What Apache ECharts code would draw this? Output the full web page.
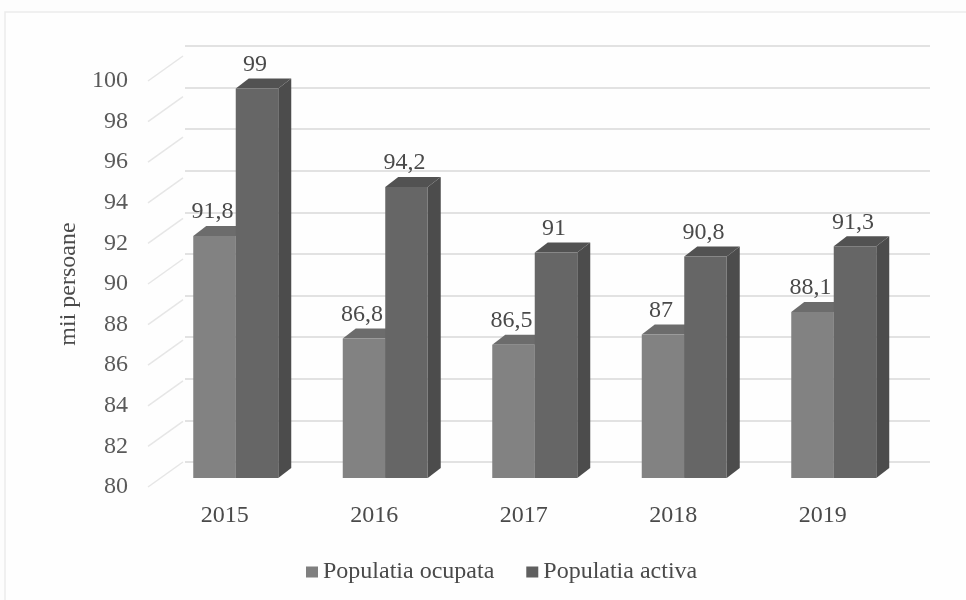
<!DOCTYPE html>
<html><head><meta charset="utf-8">
<style>html,body{margin:0;padding:0;background:#fdfdfd}#c{width:966px;height:600px}</style>
<script src="https://cdn.jsdelivr.net/npm/echarts@6/dist/echarts.min.js"></script>
</head><body><div id="c"></div>
<script>
const years = ['2015','2016','2017','2018','2019'];
const ocupata = [91.8,86.8,86.5,87,88.1];
const activa = [99,94.2,91,90.8,91.3];
const ticks = [80,82,84,86,88,90,92,94,96,98,100];
const seriesNames = ['Populatia ocupata','Populatia activa'];
const yAxisName = 'mii persoane';
const FONT = '"Liberation Serif","Times New Roman",serif';
const TXT = '#4a4a4a';
const DEPTH = [13,-10];
const BAR_RATIO = 42.5/149.5;

function barItem(side, front, top, right){
  return function(params, api){
    const i = api.value(0), v = api.value(1);
    const p = api.coord([i, v]), b = api.coord([i, 80]);
    const w = api.size([1,0])[0]*BAR_RATIO;
    const x0 = side===0 ? p[0]-w : p[0], x1 = x0+w;
    const dx = DEPTH[0], dy = DEPTH[1];
    const children = [
      {type:'polygon',shape:{points:[[x1,p[1]],[x1+dx,p[1]+dy],[x1+dx,b[1]+dy],[x1,b[1]]]},style:{fill:right}},
      {type:'polygon',shape:{points:[[x0,p[1]],[x0+dx,p[1]+dy],[x1+dx,p[1]+dy],[x1,p[1]]]},style:{fill:top}},
      {type:'rect',shape:{x:x0,y:p[1],width:w,height:b[1]-p[1]},style:{fill:front}},
      {type:'text',z2:50,style:{x:(x0+x1)/2-2,y:p[1]+dy-2,text:String(v).replace('.',','),
        font:'24px '+FONT,fill:TXT,textAlign:'center',textVerticalAlign:'bottom'}}
    ];
    return {type:'group',children};
  };
}
const chart = echarts.init(document.getElementById('c'),null,{renderer:'canvas'});
chart.setOption({
  backgroundColor:'#fdfdfd',
  animation:false,
  graphic:[{type:'rect',z:-10,shape:{x:5,y:12,width:970,height:600},style:{fill:'#fefefe',stroke:'#ebebeb',lineWidth:1.5}}],
  legend:{left:301,top:555,itemWidth:12,itemHeight:11,itemGap:32,icon:'rect',
    data:seriesNames,textStyle:{fontFamily:FONT,fontSize:24,color:TXT}},
  grid:[
    {left:150,right:68.5,top:81,bottom:113},
    {left:185,right:36,top:46,bottom:138},
    {left:161,right:57.5,top:68,bottom:122}
  ],
  xAxis:[
    {gridIndex:0,type:'category',data:years,axisLine:{show:false},axisTick:{show:false},
      axisLabel:{margin:17,fontFamily:FONT,fontSize:24,color:TXT}},
    {gridIndex:1,type:'category',data:years,show:false},
    {gridIndex:2,type:'category',data:years,show:false}
  ],
  yAxis:[
    {gridIndex:0,type:'value',min:80,max:100,interval:2,splitLine:{show:false},axisLine:{show:false},axisTick:{show:false},
      name:yAxisName,nameLocation:'middle',nameGap:57,nameRotate:90,
      nameTextStyle:{fontFamily:FONT,fontSize:24,color:TXT},
      axisLabel:{margin:22,fontFamily:FONT,fontSize:24,color:'#5a5a5a'}},
    {gridIndex:1,type:'value',min:80,max:100,interval:2,axisLine:{show:false},axisTick:{show:false},axisLabel:{show:false},
      splitLine:{show:true,lineStyle:{color:'#e2e2e2',width:2}}},
    {gridIndex:2,type:'value',min:80,max:100,interval:2,show:false,splitLine:{show:false}}
  ],
  series:[
    {type:'custom',name:'wall',xAxisIndex:0,yAxisIndex:0,silent:true,z:1,
      data:ticks.map(t=>[0,t]),
      renderItem:(params,api)=>{
        const y=api.coord([0,api.value(1)])[1], x=params.coordSys.x;
        return {type:'line',shape:{x1:x-2,y1:y,x2:x+33,y2:y-25},style:{stroke:'#e6e6e6',lineWidth:1.5}};
      }},
    {type:'custom',name:seriesNames[0],xAxisIndex:2,yAxisIndex:2,z:3,
      itemStyle:{color:'#7f7f7f'},encode:{x:0,y:1},
      data:ocupata.map((v,i)=>[i,v]),
      renderItem:barItem(0,'#828282','#6c6c6c','#5c5c5c')},
    {type:'custom',name:seriesNames[1],xAxisIndex:2,yAxisIndex:2,z:4,
      itemStyle:{color:'#5f5f5f'},encode:{x:0,y:1},
      data:activa.map((v,i)=>[i,v]),
      renderItem:barItem(1,'#666666','#525252','#4c4c4c')}
  ]
});
</script></body></html>
